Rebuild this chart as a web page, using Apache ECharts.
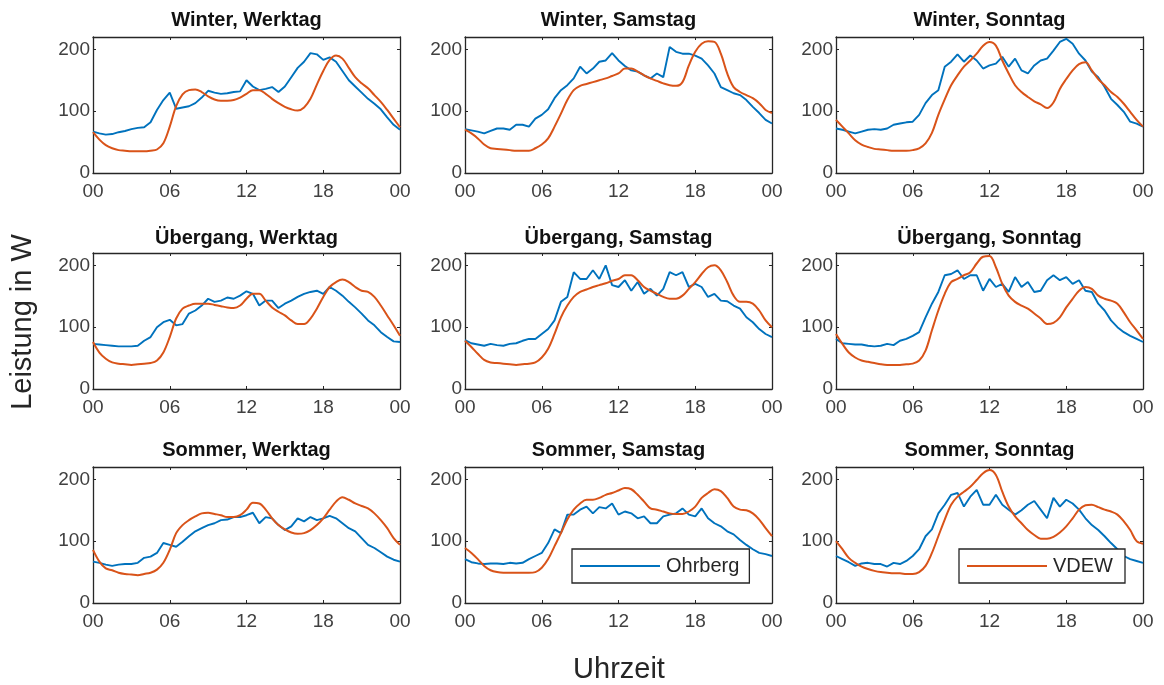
<!DOCTYPE html>
<html><head><meta charset="utf-8">
<script src="https://cdn.jsdelivr.net/npm/echarts@6/dist/echarts.min.js"></script>
<style>html,body{margin:0;padding:0;background:#fff}#c{width:1164px;height:685px}</style>
</head><body><div id="c"></div>
<script>
// time of day in hours (half-hourly)
const hours = [0,0.5,1,1.5,2,2.5,3,3.5,4,4.5,5,5.5,6,6.5,7,7.5,8,8.5,9,9.5,10,10.5,11,11.5,12,12.5,13,13.5,14,14.5,15,15.5,16,16.5,17,17.5,18,18.5,19,19.5,20,20.5,21,21.5,22,22.5,23,23.5,24];
const xTickLabels = ['00','06','12','18','00'];
const yTickLabels = ['0','100','200'];
const seasons = ['Winter','Übergang','Sommer'];
const days = ['Werktag','Samstag','Sonntag'];
const seriesNames = ['Ohrberg','VDEW'];

// Winter
const ohrberg_winter_werktag = [67,64,62,63,66,68,71,73,74,82,102,118,130,104,106,108,113,122,133,130,128,129,131,132,150,140,134,136,139,131,140,155,170,180,194,192,183,187,180,165,150,140,130,120,112,103,90,78,70];
const vdew_winter_werktag    = [66,54,45,40,37,36,35,35,35,36,38,48,75,108,127,134,135,131,124,119,117,117,118,122,128,134,134,128,120,113,107,103,101,106,120,143,165,183,190,185,170,155,145,137,126,115,102,88,74];
const ohrberg_winter_samstag = [71,69,67,64,68,72,72,70,78,78,75,88,94,103,121,134,142,153,172,161,169,180,182,194,182,173,166,164,158,153,161,155,204,196,193,193,190,185,174,161,139,134,129,126,118,107,97,86,80];
const vdew_winter_samstag    = [70,64,56,46,40,39,38,37,36,36,36,40,46,56,75,96,118,134,141,144,147,150,153,157,161,169,169,164,158,153,149,145,142,141,147,174,196,209,213,212,193,161,139,131,126,121,113,102,97];
const ohrberg_winter_sonntag = [72,70,67,64,67,70,71,70,72,78,80,82,83,94,113,126,134,172,180,192,180,190,182,169,174,177,188,172,185,166,161,174,182,185,198,212,217,209,193,182,164,155,139,120,110,99,83,80,75];
const vdew_winter_sonntag    = [86,75,64,53,46,42,39,38,37,36,36,36,37,40,48,65,94,119,142,158,172,182,193,206,212,206,182,161,142,131,123,116,111,105,114,136,152,166,176,179,166,152,142,131,123,112,99,86,75];
// Übergang
const ohrberg_uebergang_werktag = [73,72,71,70,69,69,69,70,78,84,100,108,112,103,105,122,127,135,146,141,143,148,146,151,158,154,135,143,143,131,138,143,149,154,157,159,154,165,159,151,141,132,122,111,103,92,84,77,76];
const vdew_uebergang_werktag    = [76,59,49,43,41,40,39,40,41,42,46,59,84,114,130,135,138,138,138,136,134,132,131,135,146,154,154,143,132,125,119,111,105,105,114,130,149,165,173,177,173,165,159,157,149,135,119,103,86];
const ohrberg_uebergang_samstag = [79,74,72,70,73,71,70,73,74,78,81,81,89,97,111,141,149,189,178,178,192,178,200,168,165,176,159,173,154,162,151,162,189,184,189,165,170,165,149,154,143,142,135,130,116,108,97,89,84];
const vdew_uebergang_samstag    = [78,68,57,47,43,42,41,40,39,40,41,43,51,65,89,116,135,149,157,161,165,168,171,175,178,184,184,176,165,159,154,149,146,146,151,162,173,186,197,200,192,173,151,141,141,138,127,111,100];
const ohrberg_uebergang_sonntag = [81,74,73,72,72,70,69,70,73,71,78,81,86,92,116,138,157,184,186,192,178,184,184,159,178,165,170,157,181,165,173,157,159,176,184,176,181,170,176,159,157,138,127,111,100,92,86,81,76];
const vdew_uebergang_sonntag    = [89,73,59,51,46,44,42,40,39,39,39,40,41,46,62,95,127,154,173,178,184,189,203,214,215,197,170,151,141,135,130,122,114,105,107,116,132,146,159,165,162,151,146,143,138,124,108,95,81];
// Sommer
const ohrberg_sommer_werktag = [67,65,62,60,62,63,63,65,73,75,81,97,94,91,99,108,116,121,126,129,134,135,139,139,142,146,129,139,137,126,118,124,137,132,139,134,137,141,137,129,121,116,105,94,89,82,75,70,67];
const vdew_sommer_werktag    = [86,67,56,53,49,47,46,45,47,49,54,65,86,113,126,134,140,145,146,144,142,139,139,142,151,162,161,151,137,126,119,114,112,113,118,126,137,151,164,171,167,161,157,153,145,134,121,105,94];
const ohrberg_sommer_samstag = [71,66,64,63,64,64,63,65,64,65,71,76,81,97,119,113,143,143,151,156,145,155,153,161,143,148,145,137,140,129,129,140,143,145,153,143,140,153,137,129,124,116,111,102,94,87,81,79,76];
const vdew_sommer_samstag    = [89,81,71,60,53,50,49,49,49,49,49,50,57,71,92,113,135,151,161,167,167,170,175,178,182,186,184,175,164,153,151,148,145,144,144,148,156,170,178,184,181,170,156,151,150,145,135,121,108];
const ohrberg_sommer_sonntag = [76,71,66,60,64,65,63,63,59,65,63,68,76,87,108,119,145,159,175,178,156,172,183,159,159,175,159,151,143,150,159,165,151,137,170,156,167,161,151,137,126,118,108,97,87,76,71,68,65];
const vdew_sommer_sonntag    = [100,87,73,65,59,55,52,50,49,48,48,47,47,50,60,81,108,135,159,172,180,188,199,210,215,207,180,156,140,129,118,110,104,104,107,114,124,137,151,158,159,155,151,148,143,132,118,100,96];

const ohrbergData = [
  [ohrberg_winter_werktag, ohrberg_winter_samstag, ohrberg_winter_sonntag],
  [ohrberg_uebergang_werktag, ohrberg_uebergang_samstag, ohrberg_uebergang_sonntag],
  [ohrberg_sommer_werktag, ohrberg_sommer_samstag, ohrberg_sommer_sonntag]
];
const vdewData = [
  [vdew_winter_werktag, vdew_winter_samstag, vdew_winter_sonntag],
  [vdew_uebergang_werktag, vdew_uebergang_samstag, vdew_uebergang_sonntag],
  [vdew_sommer_werktag, vdew_sommer_samstag, vdew_sommer_sonntag]
];

const FONT = "'Liberation Sans', Arial, Helvetica, sans-serif";
const AXC = '#262626';
const TICKC = '#404040';
const BLUE = '#0072BD', ORANGE = '#D95319';
const colLeft = [93, 465, 836];
const rowTop = [37, 253, 467];
const gw = 307, gh = 136;
const titleY = [20, 238, 450];

const grid = [], xAxis = [], yAxis = [], series = [], graphic = [];
let gi = 0;
for (let r = 0; r < 3; r++) {
  for (let c = 0; c < 3; c++) {
    grid.push({left: colLeft[c], top: rowTop[r], width: gw, height: gh, show: false});
    const xBase = {gridIndex: gi, type: 'value', min: 0, max: 24, interval: 6,
      axisLine: {show: true, onZero: false, lineStyle: {color: AXC, width: 1.3}},
      axisTick: {show: true, inside: true, length: 3, lineStyle: {color: AXC}},
      splitLine: {show: false}};
    xAxis.push(Object.assign({}, xBase, {position: 'bottom',
      axisLabel: {show: true, margin: 9, color: TICKC, fontSize: 19, fontFamily: FONT,
        formatter: v => xTickLabels[Math.round(v / 6)] || ''}}));
    xAxis.push(Object.assign({}, xBase, {position: 'top', axisLabel: {show: false}}));
    const yBase = {gridIndex: gi, type: 'value', min: 0, max: 220, interval: 100,
      axisLine: {show: true, onZero: false, lineStyle: {color: AXC, width: 1.3}},
      axisTick: {show: true, inside: true, length: 3, lineStyle: {color: AXC}},
      splitLine: {show: false}};
    yAxis.push(Object.assign({}, yBase, {position: 'left',
      axisLabel: {show: true, margin: 3, color: TICKC, fontSize: 19, fontFamily: FONT,
        showMaxLabel: false,
        formatter: v => (v % 100 === 0 ? yTickLabels[v / 100] : '')}}));
    yAxis.push(Object.assign({}, yBase, {position: 'right', axisLabel: {show: false}}));

    const ob = ohrbergData[r][c], vd = vdewData[r][c];
    series.push({name: seriesNames[0], type: 'line', xAxisIndex: 2 * gi, yAxisIndex: 2 * gi,
      data: hours.map((h, i) => [h, ob[i]]), symbol: 'none', showSymbol: false,
      lineStyle: {color: BLUE, width: 1.9}, itemStyle: {color: BLUE}, z: 2});
    series.push({name: seriesNames[1], type: 'line', xAxisIndex: 2 * gi, yAxisIndex: 2 * gi,
      data: hours.map((h, i) => [h, vd[i]]), symbol: 'none', showSymbol: false, smooth: 0.35,
      lineStyle: {color: ORANGE, width: 2}, itemStyle: {color: ORANGE}, z: 3});

    graphic.push({type: 'text', x: colLeft[c] + gw / 2, y: titleY[r],
      style: {text: seasons[r] + ', ' + days[c], font: 'bold 20px ' + FONT, fill: '#111',
        textAlign: 'center', textVerticalAlign: 'middle'}});
    gi++;
  }
}
graphic.push({type: 'text', x: 23, y: 322, rotation: Math.PI / 2,
  style: {text: 'Leistung in W', font: '29px ' + FONT, fill: '#262626', textAlign: 'center', textVerticalAlign: 'middle'}});
graphic.push({type: 'text', x: 619, y: 670,
  style: {text: 'Uhrzeit', font: '29px ' + FONT, fill: '#262626', textAlign: 'center', textVerticalAlign: 'middle'}});

const legendBase = {orient: 'horizontal', backgroundColor: '#fff', borderColor: AXC, borderWidth: 1.3,
  borderRadius: 0, icon: 'rect', itemWidth: 80, itemHeight: 2, selectedMode: false,
  textStyle: {fontSize: 20, color: '#262626', fontFamily: FONT, padding: [0, 0, 0, 1]}};
const legend = [
  Object.assign({}, legendBase, {data: [seriesNames[0]], left: 572, top: 549, padding: [7, 10, 7, 8]}),
  Object.assign({}, legendBase, {data: [seriesNames[1]], left: 959, top: 549, padding: [7, 12, 7, 8]})
];

const chart = echarts.init(document.getElementById('c'), null, {renderer: 'canvas'});
chart.setOption({animation: false, backgroundColor: '#fff', grid, xAxis, yAxis, series, legend, graphic});
</script></body></html>
